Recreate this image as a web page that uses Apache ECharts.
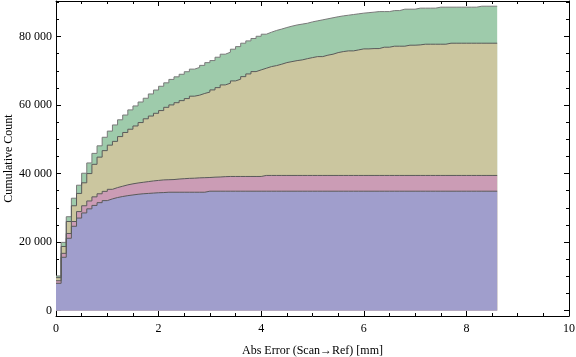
<!DOCTYPE html>
<html>
<head>
<meta charset="utf-8">
<script src="https://cdn.jsdelivr.net/npm/echarts@6/dist/echarts.min.js"></script>
<style>
  html, body { margin: 0; padding: 0; background: #fff; }
  #chart { width: 576px; height: 357px; }
</style>
</head>
<body>
<div id="chart"></div>
<script>
// cumulative histogram, bins of 0.1 mm from 0 to 8.6
const binWidth = 0.1;

// top of each band (read as cumulative totals)
const greenTop = [
  10100, 19900, 27400, 32800, 36600, 40100, 43100, 45900, 48100, 50600,
  52400, 54200, 55700, 57100, 58600, 59750, 60900, 62000, 63250, 64400,
  65500, 66500, 67500, 68250, 69000, 69750, 70500, 71000, 71600, 72400,
  73000, 73980, 74860, 75440, 76320, 77080, 78070, 78750, 79450, 80100,
  80700, 81280, 81800, 82200, 82650, 83050, 83400, 83650, 83900, 84300,
  84600, 84900, 85200, 85500, 85800, 86050, 86250, 86450, 86650, 86850,
  87000, 87140, 87310, 87310, 87310, 87600, 87600, 88010, 88010, 88010,
  88310, 88310, 88310, 88310, 88600, 88600, 88600, 88600, 88600, 88600,
  88600, 88600, 88880, 88880, 88880, 88880
];
const tanTop = [
  9600, 18700, 26000, 30600, 34200, 37300, 40000, 42700, 44800, 46700,
  48300, 49400, 50800, 52000, 52950, 53900, 54900, 56000, 56800, 57600,
  58400, 59350, 60050, 60700, 61300, 61900, 62600, 62900, 63400, 63800,
  64430, 65100, 65890, 66390, 67060, 67560, 68310, 69100, 69780, 70280,
  70760, 71240, 71530, 71940, 72410, 72700, 72990, 73200, 73550, 73870,
  74160, 74160, 74570, 74860, 75330, 75620, 75830, 75830, 76120, 76410,
  76410, 76500, 76500, 76910, 76910, 77200, 77200, 77200, 77490, 77490,
  77580, 77780, 77780, 77780, 77780, 77780, 78070, 78070, 78070, 78070,
  78070, 78070, 78070, 78070, 78070, 78070
];
const pinkTop = [
  8700, 16700, 22500, 26000, 28900, 30600, 32000, 33200, 34100, 34800,
  35400, 35900, 36300, 36700, 37000, 37250, 37450, 37650, 37850, 38000,
  38150, 38200, 38250, 38400, 38500, 38600, 38650, 38750, 38800, 38850,
  38950, 39000, 39100, 39150, 39150, 39150, 39150, 39150, 39150, 39150,
  39450, 39450, 39450, 39450, 39450, 39450, 39450, 39450, 39450, 39450,
  39450, 39450, 39450, 39450, 39450, 39450, 39450, 39450, 39450, 39450,
  39450, 39450, 39450, 39450, 39450, 39450, 39450, 39450, 39450, 39450,
  39450, 39450, 39450, 39450, 39450, 39450, 39450, 39450, 39450, 39450,
  39450, 39450, 39450, 39450, 39450, 39450
];
const blueTop = [
  7950, 15550, 21100, 24600, 27000, 28500, 29700, 30700, 31500, 32100,
  32600, 33000, 33300, 33550, 33750, 33950, 34100, 34200, 34300, 34400,
  34450, 34550, 34550, 34550, 34550, 34550, 34550, 34550, 34550, 34850,
  34850, 34850, 34850, 34850, 34850, 34850, 34850, 34850, 34850, 34850,
  34850, 34850, 34850, 34850, 34850, 34850, 34850, 34850, 34850, 34850,
  34850, 34850, 34850, 34850, 34850, 34850, 34850, 34850, 34850, 34850,
  34850, 34850, 34850, 34850, 34850, 34850, 34850, 34850, 34850, 34850,
  34850, 34850, 34850, 34850, 34850, 34850, 34850, 34850, 34850, 34850,
  34850, 34850, 34850, 34850, 34850, 34850
];

const xTicks = [0, 2, 4, 6, 8, 10];
const yTicks = [0, 20000, 40000, 60000, 80000];

const font = '"Liberation Serif", "Times New Roman", serif';

function toSteps(values) {
  const pts = values.map((v, i) => [i * binWidth, v]);
  pts.push([values.length * binWidth, values[values.length - 1]]);
  return pts;
}

function band(name, values, fill, edge) {
  return {
    name: name,
    type: 'line',
    step: 'end',
    symbol: 'none',
    xAxisIndex: 0,
    yAxisIndex: 0,
    data: toSteps(values),
    lineStyle: { color: edge, width: 1 },
    areaStyle: { color: fill, opacity: 1 }
  };
}

function frameX(pos, labels) {
  return {
    type: 'value',
    position: pos,
    min: xTicks[0],
    max: xTicks[xTicks.length - 1],
    interval: xTicks[1] - xTicks[0],
    axisLine: { show: true, onZero: false, lineStyle: { color: '#000', width: 1 } },
    axisTick: { show: true, inside: true, length: 5, lineStyle: { color: '#000' } },
    minorTick: { show: true, splitNumber: 4, length: 3, lineStyle: { color: '#000' } },
    splitLine: { show: false },
    axisLabel: { show: labels, color: '#000', fontFamily: font, fontSize: 12, margin: 7 },
    name: labels ? 'Abs Error (Scan\u2192Ref) [mm]' : '',
    nameLocation: 'middle',
    nameGap: 29,
    nameMoveOverlap: false,
    nameTextStyle: { color: '#000', fontFamily: font, fontSize: 12 }
  };
}

function frameY(pos, labels) {
  return {
    type: 'value',
    position: pos,
    min: -1600,
    max: 90400,
    splitNumber: 5,
    axisLine: { show: true, onZero: false, lineStyle: { color: '#000', width: 1 } },
    axisTick: { show: true, inside: true, length: 5, lineStyle: { color: '#000' } },
    minorTick: { show: true, splitNumber: 4, length: 3, lineStyle: { color: '#000' } },
    splitLine: { show: false },
    axisLabel: {
      show: labels,
      showMinLabel: false,
      showMaxLabel: false,
      color: '#000',
      fontFamily: font,
      fontSize: 12,
      margin: 4,
      formatter: v => yTicks.includes(v) ? String(v).replace(/\B(?=(\d{3})+(?!\d))/g, ' ') : ''
    },
    name: labels ? 'Cumulative Count' : '',
    nameLocation: 'middle',
    nameGap: 41,
    nameMoveOverlap: false,
    nameTextStyle: { color: '#000', fontFamily: font, fontSize: 12 }
  };
}

const chart = echarts.init(document.getElementById('chart'), null, { renderer: 'canvas' });
chart.setOption({
  backgroundColor: '#fff',
  animation: false,
  grid: { left: 56, right: 7, top: 1, bottom: 41, containLabel: false, outerBoundsMode: 'none' },
  xAxis: [frameX('bottom', true), frameX('top', false)],
  yAxis: [frameY('left', true), frameY('right', false)],
  series: [
    band('green', greenTop, '#9ecbab', '#7a7a7a'),
    band('tan', tanTop, '#cbc69f', '#5a5a5a'),
    band('pink', pinkTop, '#cb9cb5', '#5a5a5a'),
    band('blue', blueTop, '#a09ecc', '#5a5a5a')
  ]
});
</script>
</body>
</html>
